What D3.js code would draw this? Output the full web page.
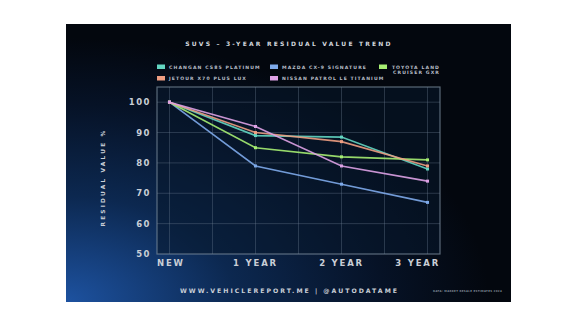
<!DOCTYPE html>
<html>
<head>
<meta charset="utf-8">
<script src="https://cdn.jsdelivr.net/npm/d3@7"></script>
<style>
  body { margin: 0; background: #fff; }
  svg text { font-family: "DejaVu Sans", sans-serif; font-weight: bold; }
</style>
</head>
<body>
<svg id="chart" width="567" height="330"></svg>
<script>
// chart values
const categories = ["NEW", "1 YEAR", "2 YEAR", "3 YEAR"];
const seriesNames = ["CHANGAN CS85 PLATINUM", "MAZDA CX-9 SIGNATURE", "TOYOTA LAND CRUISER GXR",
                     "JETOUR X70 PLUS LUX", "NISSAN PATROL LE TITANIUM"];
const changan = [100, 89, 88.5, 78];
const mazda = [100, 79, 73, 67];
const toyota = [100, 85, 82, 81];
const jetour = [100, 90, 87, 79];
const nissan = [100, 92, 79, 74];
const yTicks = [50, 60, 70, 80, 90, 100];
const colors = ["#63d6c2", "#7eaaea", "#a6ee72", "#ee9e82", "#dea2e6"];

const allSeries = [changan, mazda, toyota, jetour, nissan];

const svg = d3.select("#chart");
const defs = svg.append("defs");

// panel background
const grad = defs.append("radialGradient").attr("id", "bg")
    .attr("cx", "0%").attr("cy", "100%").attr("r", "95%");
grad.append("stop").attr("offset", "0%").attr("stop-color", "#1d52a0");
grad.append("stop").attr("offset", "40%").attr("stop-color", "#0c2850");
grad.append("stop").attr("offset", "75%").attr("stop-color", "#061226");
grad.append("stop").attr("offset", "100%").attr("stop-color", "#03070e");

const panel = { x: 66, y: 24, w: 445, h: 278 };
svg.append("rect").attr("x", panel.x).attr("y", panel.y)
    .attr("width", panel.w).attr("height", panel.h).attr("fill", "url(#bg)");

const m = { left: 157, right: 440, top: 87, bottom: 254 };
const w = m.right - m.left, h = m.bottom - m.top;

const x = d3.scaleLinear().domain([-0.145, 3.145]).range([m.left, m.right]);
const y = d3.scaleLinear().domain([50, 105]).range([m.bottom, m.top]);

// plot area
svg.append("rect").attr("x", m.left).attr("y", m.top).attr("width", w).attr("height", h)
    .attr("fill", "#07182c").attr("fill-opacity", 0.55);

const g = svg.append("g");

// grid
g.selectAll("line.vg").data(d3.range(0, 3.01, 0.5)).join("line")
    .attr("x1", d => x(d)).attr("x2", d => x(d)).attr("y1", m.top).attr("y2", m.bottom)
    .attr("stroke", "#6f8194").attr("stroke-opacity", 0.35).attr("stroke-width", 1);
g.selectAll("line.hg").data(yTicks.slice(1)).join("line")
    .attr("x1", m.left).attr("x2", m.right).attr("y1", d => y(d)).attr("y2", d => y(d))
    .attr("stroke", "#6f8194").attr("stroke-opacity", 0.35).attr("stroke-width", 1);

svg.append("rect").attr("x", m.left).attr("y", m.top).attr("width", w).attr("height", h)
    .attr("fill", "none").attr("stroke", "#7f909f").attr("stroke-opacity", 0.7).attr("stroke-width", 1.2);

// y axis labels
g.selectAll("text.yt").data(yTicks).join("text")
    .attr("x", m.left - 6).attr("y", d => y(d)).attr("dy", "0.35em")
    .attr("text-anchor", "end").attr("fill", "#c9ced6")
    .attr("font-size", 8.5).attr("letter-spacing", 1.5).text(d => d);

// x axis labels
g.selectAll("text.xt").data(categories).join("text")
    .attr("x", (d, i) => i === 0 ? m.left : i === categories.length - 1 ? m.right : x(i))
    .attr("y", m.bottom + 12)
    .attr("text-anchor", (d, i) => i === 0 ? "start" : i === categories.length - 1 ? "end" : "middle")
    .attr("fill", "#c9ced6").attr("font-size", 8.5).attr("letter-spacing", 1.8).text(d => d);

svg.append("text")
    .attr("transform", `translate(105, 177.5) rotate(-90)`)
    .attr("text-anchor", "middle").attr("fill", "#c9ced6")
    .attr("font-size", 5.8).attr("letter-spacing", 2.2).text("RESIDUAL VALUE %");

// lines
const line = d3.line().x((d, i) => x(i)).y(d => y(d));
allSeries.forEach((s, k) => {
    g.append("path").datum(s).attr("d", line)
        .attr("fill", "none").attr("stroke", colors[k]).attr("stroke-width", 1.6)
        .attr("stroke-opacity", 0.9);
    g.selectAll(`rect.p${k}`).data(s).join("rect")
        .attr("x", (d, i) => x(i) - 1.5).attr("y", d => y(d) - 1.5)
        .attr("width", 3).attr("height", 3).attr("fill", colors[k]);
});

// title
svg.append("text").attr("x", 289).attr("y", 45.5).attr("text-anchor", "middle")
    .attr("fill", "#d4d8de").attr("font-size", 6).attr("letter-spacing", 2.2)
    .text("SUVS – 3-YEAR RESIDUAL VALUE TREND");

// legend
const legendPos = [
    { x: 157, y: 67 }, { x: 270, y: 67 }, { x: 379, y: 67 },
    { x: 157, y: 78.5 }, { x: 270, y: 78.5 }
];
seriesNames.forEach((name, k) => {
    const p = legendPos[k];
    svg.append("rect").attr("x", p.x).attr("y", p.y - 2.5).attr("width", 8).attr("height", 4.5)
        .attr("fill", colors[k]);
    if (k === 2) {
        const t = svg.append("text").attr("text-anchor", "end").attr("fill", "#b9bfc8")
            .attr("font-size", 4.6).attr("letter-spacing", 1.1);
        t.append("tspan").attr("x", 440).attr("y", p.y + 1.5).text("TOYOTA LAND");
        t.append("tspan").attr("x", 440).attr("y", p.y + 7).text("CRUISER GXR");
    } else {
        svg.append("text").attr("x", p.x + 12).attr("y", p.y + 1.5)
            .attr("fill", "#b9bfc8").attr("font-size", 4.6).attr("letter-spacing", 1.1).text(name);
    }
});

// footer
svg.append("text").attr("x", 289.5).attr("y", 293).attr("text-anchor", "middle")
    .attr("fill", "#c9ced6").attr("font-size", 6.2).attr("letter-spacing", 2)
    .text("WWW.VEHICLEREPORT.ME | @AUTODATAME");
svg.append("text").attr("x", 502).attr("y", 292).attr("text-anchor", "end")
    .attr("fill", "#7d8794").attr("font-size", 2.6).attr("letter-spacing", 0.3)
    .text("DATA: MARKET RESALE ESTIMATES 2024");
</script>
</body>
</html>
